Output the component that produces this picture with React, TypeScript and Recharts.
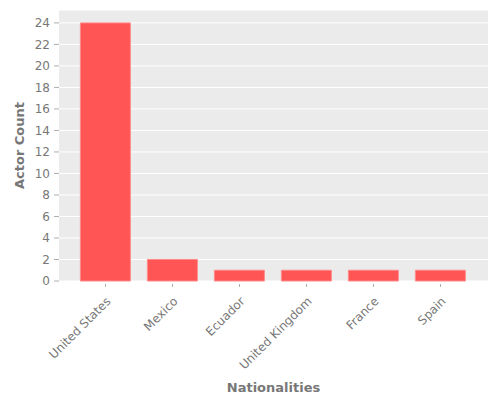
import { BarChart, Bar, XAxis, YAxis, CartesianGrid } from "recharts";

const nationalities = [
  "United States",
  "Mexico",
  "Ecuador",
  "United Kingdom",
  "France",
  "Spain",
];
const actorCounts = [24, 2, 1, 1, 1, 1];
const yTicks = [0, 2, 4, 6, 8, 10, 12, 14, 16, 18, 20, 22, 24];

const data = nationalities.map((name, i) => ({ name, count: actorCounts[i] }));

const font = "'DejaVu Sans', sans-serif";
const textGray = "#777";

function XTick(props: any) {
  const { x, y, payload } = props;
  const ax = x + 6;
  const ay = y + 16;
  return (
    <g>
      <line x1={x} x2={x} y1={y - 2} y2={y + 1} stroke="#999" strokeWidth={0.8} />
      <text
        x={ax}
        y={ay}
        textAnchor="end"
        fontSize={12}
        fill={textGray}
        fontFamily={font}
        transform={`rotate(-45, ${ax}, ${ay})`}
      >
        {payload.value}
      </text>
    </g>
  );
}

export default function App() {
  return (
    <div style={{ position: "absolute", left: 0, top: 0, width: 500, height: 400, background: "#fff" }}>
      <BarChart
        width={500}
        height={400}
        data={data}
        margin={{ top: 10, right: 12, bottom: 0, left: 0 }}
        barCategoryGap="12.5%"
      >
        <CartesianGrid vertical={false} stroke="#fff" strokeWidth={1} fill="#EBEBEB" fillOpacity={1} />
        <XAxis
          dataKey="name"
          height={119}
          axisLine={false}
          tickLine={false}
          tickSize={5}
          tickMargin={0}
          tick={<XTick />}
          interval={0}
          padding={{ left: 13, right: 14 }}
          label={{
            value: "Nationalities",
            position: "insideBottom",
            offset: 8,
            fill: textGray,
            fontSize: 13,
            fontWeight: "bold",
            fontFamily: font,
          }}
        />
        <YAxis
          width={59}
          domain={[0, 25.2]}
          ticks={yTicks}
          interval={0}
          axisLine={false}
          tickLine={{ stroke: "#999", strokeWidth: 0.8 }}
          tickSize={5}
          tickMargin={4}
          tick={{ fill: textGray, fontSize: 12, fontFamily: font }}
          label={{
            value: "Actor Count",
            angle: -90,
            position: "insideLeft",
            offset: 19.5,
            style: { textAnchor: "middle" },
            fill: textGray,
            fontSize: 13,
            fontWeight: "bold",
            fontFamily: font,
          }}
        />
        <Bar
          dataKey="count"
          fill="#FF5555"
          stroke="#FF8A8A"
          strokeWidth={1}
          isAnimationActive={false}
        />
      </BarChart>
    </div>
  );
}
